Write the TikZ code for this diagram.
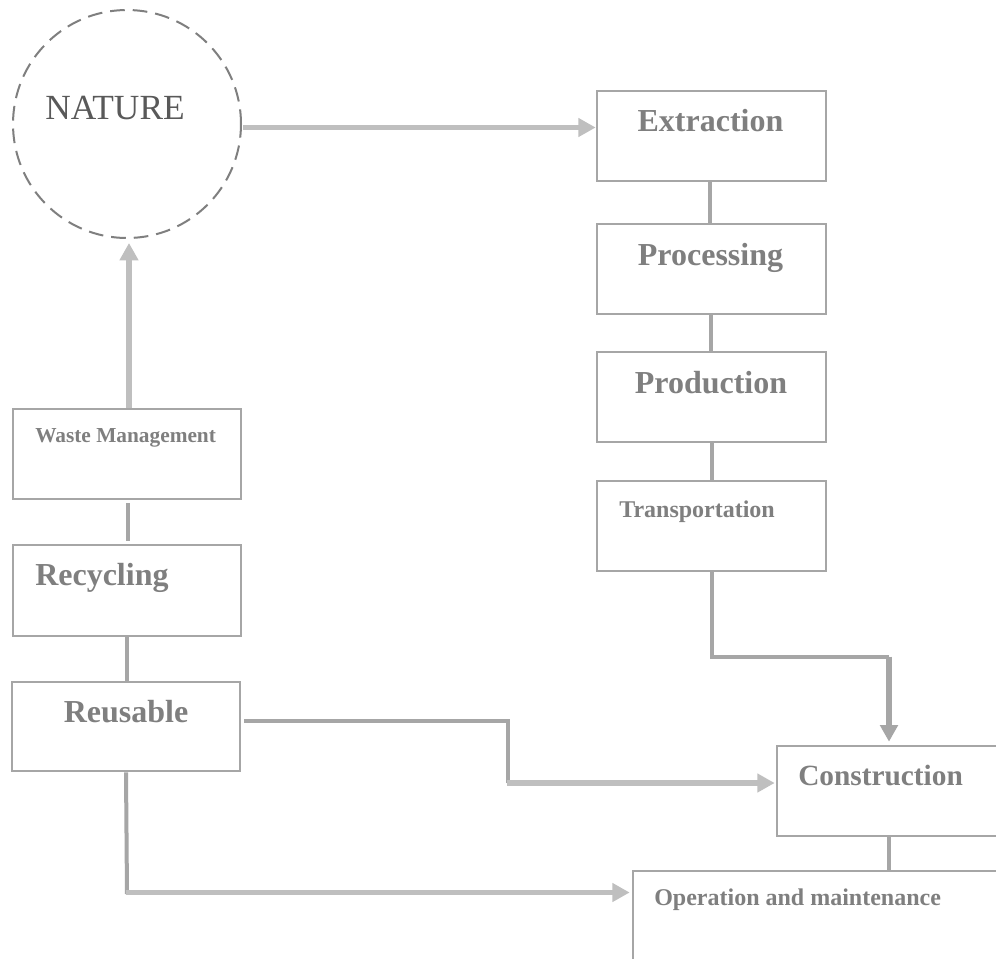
\documentclass[tikz,border=0pt]{standalone}
\usepackage{fontspec}
\setmainfont{Liberation Serif}
\usetikzlibrary{arrows.meta,calc,fit}
\definecolor{boxc}{HTML}{A6A6A6}
\definecolor{lightc}{HTML}{BFBFBF}
\definecolor{txtc}{HTML}{7F7F7F}
\definecolor{natc}{HTML}{595959}
\definecolor{circc}{HTML}{7F7F7F}
\begin{document}
\begin{tikzpicture}[x=0.75pt,y=-0.75pt,
  stepbox/.style={draw=boxc,line width=2pt,inner sep=0pt,rectangle},
  lbl/.style={text=txtc,inner sep=0pt},
  fbig/.style={font=\fontsize{24pt}{28pt}\selectfont\bfseries},
  fmid/.style={font=\fontsize{22pt}{26pt}\selectfont\bfseries},
  fsmall/.style={font=\fontsize{18pt}{22pt}\selectfont\bfseries},
  ftiny/.style={font=\fontsize{16pt}{20pt}\selectfont\bfseries},
  darkline/.style={draw=boxc,line width=3pt},
  darkarrow/.style={draw=boxc,fill=boxc,line width=4pt,-{Triangle[length=12.5pt,width=13pt]}},
  lightarrow/.style={draw=lightc,fill=lightc,line width=4pt,-{Triangle[length=13pt,width=13.5pt]}}]
\clip (0,0) rectangle (996,958);
\fill[white] (0,0) rectangle (996,958);

% NATURE
\node[circle,draw=circc,line width=1.5pt,dash pattern=on 11pt off 6pt,minimum size=171pt,inner sep=0pt] (nature) at (127,124) {};
\node[text=natc,inner sep=0pt,anchor=base west,font=\fontsize{26.5pt}{30pt}\selectfont] (naturetxt) at (45,119.5) {NATURE};

% right column boxes
\node[stepbox,fit={(597,91) (826,181)}] (extraction) {};
\node[stepbox,fit={(597,224) (826,314)}] (processing) {};
\node[stepbox,fit={(597,352) (826,442)}] (production) {};
\node[stepbox,fit={(597,481) (826,571)}] (transport) {};
\node[stepbox,fit={(777,746) (1006,836)}] (construction) {};
\node[stepbox,fit={(633,871) (1040,961)}] (operation) {};

% left column boxes
\node[stepbox,fit={(13,409) (241,499)}] (waste) {};
\node[stepbox,fit={(13,545) (241,636)}] (recycling) {};
\node[stepbox,fit={(12,682) (240,771)}] (reusable) {};

% labels
\node[lbl,fbig,anchor=base] (extractiontxt) at (710.5,131) {Extraction};
\node[lbl,fbig,anchor=base] (processingtxt) at (710.5,265) {Processing};
\node[lbl,fbig,anchor=base] (productiontxt) at (711,393) {Production};
\node[lbl,fsmall,anchor=base west] (transporttxt) at (619,517) {Transportation};
\node[lbl,fmid,anchor=base west] (constructiontxt) at (798,785) {Construction};
\node[lbl,fsmall,anchor=base west] (operationtxt) at (654,905) {Operation and maintenance};
\node[lbl,ftiny,anchor=base west] (wastetxt) at (35,442) {Waste Management};
\node[lbl,fbig,anchor=base west] (recyclingtxt) at (35,585) {Recycling};
\node[lbl,fbig,anchor=base] (reusabletxt) at (126,722) {Reusable};

% connectors right column
\draw[lightarrow] ($(nature.east)+(1,3.5)$) -- ($(extraction.west)+(0,-8.5)$);
\draw[darkline] ($(extraction.south)+(-1.5,0)$) -- ($(processing.north)+(-1.5,0)$);
\draw[darkline] ($(processing.south)+(-1,0)$) -- ($(production.north)+(-1,0)$);
\draw[darkline] ($(production.south)+(0.5,0)$) -- ($(transport.north)+(0.5,0)$);
\coordinate (tcorner) at ($(construction.north)+(-2.5,-88)$);
\draw[darkline] ($(transport.south)+(0.5,0)$) |- (tcorner);
\draw[darkarrow] (tcorner) -- ($(construction.north)+(-2.5,-3)$);
\draw[darkline] ($(construction.south)+(-2.5,0)$) -- ($(operation.north -| construction.south)+(-2.5,0)$);

% connectors left column
\draw[lightarrow] ($(waste.north)+(2,0)$) -- ($(nature.south)+(2,4)$);
\draw[darkline] ($(waste.south)+(0.5,3)$) -- ($(recycling.north)+(0.5,-3)$);
\draw[darkline] ($(recycling.south)+(-0.5,0)$) -- ($(reusable.north)+(0.5,0)$);

% reusable to construction
\coordinate (rcorner) at (508,783);
\draw[darkline] ($(reusable.east)+(3,-6)$) -| (rcorner);
\draw[lightarrow] ($(rcorner)+(-1.5,0)$) -- ($(construction.west)+(-1,-8)$);

% reusable to operation
\coordinate (ocorner) at (127,892.5);
\draw[darkline] (reusable.south) -- ($(ocorner)+(0,1.5)$);
\draw[lightarrow] ($(ocorner)+(-1.5,0)$) -- ($(operation.west)+(-2,-23.5)$);
\end{tikzpicture}
\end{document}
